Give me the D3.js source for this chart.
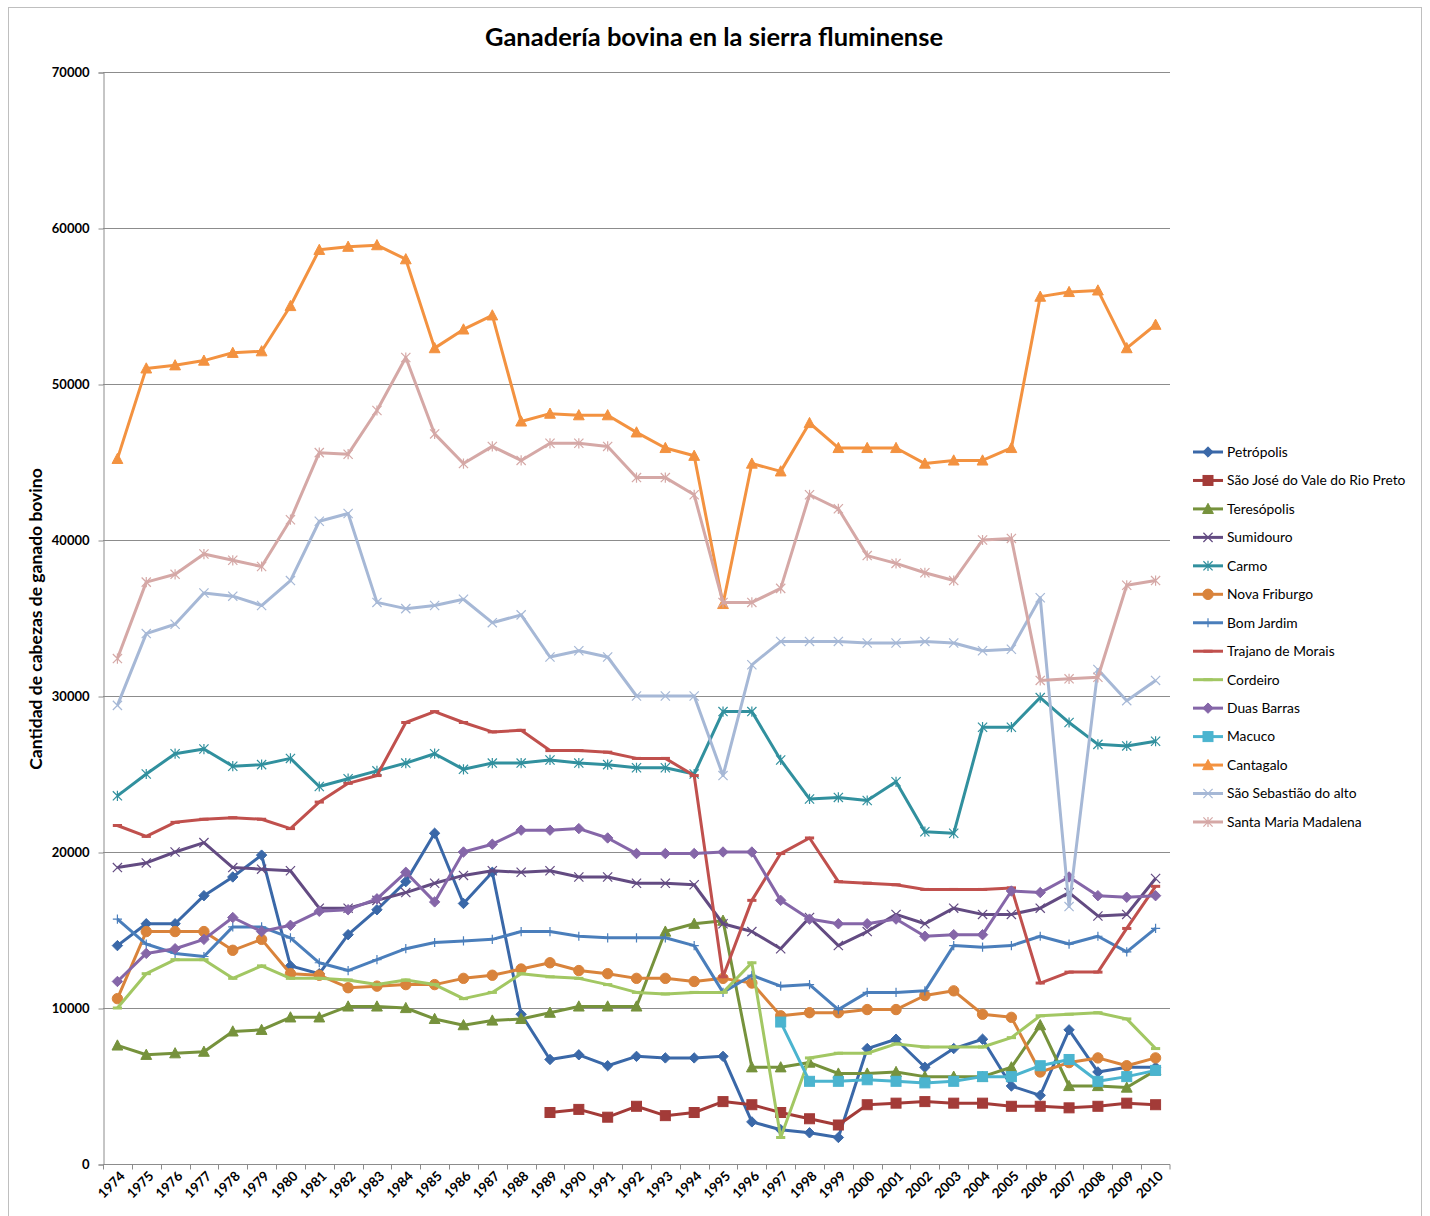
<!DOCTYPE html>
<html>
<head>
<meta charset="utf-8">
<script src="https://cdn.jsdelivr.net/npm/d3@7/dist/d3.min.js"></script>
<style>
  html, body { margin: 0; padding: 0; background: #fff; }
  svg { display: block; font-family: Lato, "Open Sans", sans-serif; }
</style>
</head>
<body>
<svg id="chart" width="1430" height="1216"></svg>
<script>
const years = d3.range(1974, 2011).map(String);
const yTicks = [0, 10000, 20000, 30000, 40000, 50000, 60000, 70000];
const N = null;

const petropolis = [14000,15400,15400,17200,18400,19800,12700,12200,14700,16300,18100,21200,16700,18700,9600,6700,7000,6300,6900,6800,6800,6900,2700,2200,2000,1700,7400,8000,6200,7400,8000,5000,4400,8600,5900,6200,6200];
const saoJose = [N,N,N,N,N,N,N,N,N,N,N,N,N,N,N,3300,3500,3000,3700,3100,3300,4000,3800,3300,2900,2500,3800,3900,4000,3900,3900,3700,3700,3600,3700,3900,3800];
const teresopolis = [7600,7000,7100,7200,8500,8600,9400,9400,10100,10100,10000,9300,8900,9200,9300,9700,10100,10100,10100,14900,15400,15600,6200,6200,6500,5800,5800,5900,5600,5600,5600,6200,8900,5000,5000,4900,6000];
const sumidouro = [19000,19300,20000,20600,19000,18900,18800,16400,16400,16900,17400,18000,18500,18800,18700,18800,18400,18400,18000,18000,17900,15400,14900,13800,15800,14000,14900,16000,15400,16400,16000,16000,16400,17400,15900,16000,18300];
const carmo = [23600,25000,26300,26600,25500,25600,26000,24200,24700,25200,25700,26300,25300,25700,25700,25900,25700,25600,25400,25400,25000,29000,29000,25900,23400,23500,23300,24500,21300,21200,28000,28000,29900,28300,26900,26800,27100];
const novaFriburgo = [10600,14900,14900,14900,13700,14400,12200,12100,11300,11400,11500,11500,11900,12100,12500,12900,12400,12200,11900,11900,11700,11900,11600,9500,9700,9700,9900,9900,10800,11100,9600,9400,5900,6500,6800,6300,6800];
const bomJardim = [15700,14100,13500,13300,15200,15200,14500,12900,12400,13100,13800,14200,14300,14400,14900,14900,14600,14500,14500,14500,14000,11000,12100,11400,11500,9900,11000,11000,11100,14000,13900,14000,14600,14100,14600,13600,15100];
const trajano = [21700,21000,21900,22100,22200,22100,21500,23200,24400,24900,28300,29000,28300,27700,27800,26500,26500,26400,26000,26000,24900,12000,16900,19900,20900,18100,18000,17900,17600,17600,17600,17700,11600,12300,12300,15100,17800];
const cordeiro = [10000,12200,13100,13100,11900,12700,11900,11900,11800,11500,11800,11500,10600,11000,12200,12000,11900,11500,11000,10900,11000,11000,12900,1700,6800,7100,7100,7700,7500,7500,7500,8100,9500,9600,9700,9300,7400];
const duasBarras = [11700,13500,13800,14400,15800,14900,15300,16200,16300,17000,18700,16800,20000,20500,21400,21400,21500,20900,19900,19900,19900,20000,20000,16900,15700,15400,15400,15700,14600,14700,14700,17500,17400,18400,17200,17100,17200];
const macuco = [N,N,N,N,N,N,N,N,N,N,N,N,N,N,N,N,N,N,N,N,N,N,N,9100,5300,5300,5400,5300,5200,5300,5600,5600,6300,6700,5300,5600,6000];
const cantagalo = [45200,51000,51200,51500,52000,52100,55000,58600,58800,58900,58000,52300,53500,54400,47600,48100,48000,48000,46900,45900,45400,35900,44900,44400,47500,45900,45900,45900,44900,45100,45100,45900,55600,55900,56000,52300,53800];
const saoSebastiao = [29400,34000,34600,36600,36400,35800,37400,41200,41700,36000,35600,35800,36200,34700,35200,32500,32900,32500,30000,30000,30000,24900,32000,33500,33500,33500,33400,33400,33500,33400,32900,33000,36300,16500,31700,29700,31000];
const santaMaria = [32400,37300,37800,39100,38700,38300,41300,45600,45500,48300,51700,46800,44900,46000,45100,46200,46200,46000,44000,44000,42900,36000,36000,36900,42900,42000,39000,38500,37900,37400,40000,40100,31000,31100,31200,37100,37400];

const seriesNames = ["Petrópolis","São José do Vale do Rio Preto","Teresópolis","Sumidouro","Carmo","Nova Friburgo","Bom Jardim","Trajano de Morais","Cordeiro","Duas Barras","Macuco","Cantagalo","São Sebastião do alto","Santa Maria Madalena"];
const seriesValues = [petropolis,saoJose,teresopolis,sumidouro,carmo,novaFriburgo,bomJardim,trajano,cordeiro,duasBarras,macuco,cantagalo,saoSebastiao,santaMaria];
const seriesColors = ["#3A68A8","#A33B38","#76923C","#634B82","#31909E","#D9833B","#4A7EBB","#C0504D","#A2C763","#8566A8","#4BB4CF","#F39240","#A6B8D6","#D5A8A6"];
const seriesMarkers = ["diamond","square","triangle","x","star","circle","plus","dash","dash","diamond","square","triangle","x","star"];

const svg = d3.select("#chart");
const plot = {left: 103, right: 1170, top: 72, bottom: 1164};

// outer frame
svg.append("rect").attr("x", 8.5).attr("y", 7.5).attr("width", 1413).attr("height", 1230)
  .attr("fill", "none").attr("stroke", "#BFBFBF").attr("stroke-width", 1);

const x = d3.scalePoint().domain(years).range([plot.left, plot.right]).padding(0.5);
const xb = d3.scaleBand().domain(years).range([plot.left, plot.right]);
const y = d3.scaleLinear().domain([0, 70000]).range([plot.bottom, plot.top]);

// gridlines
svg.append("g").selectAll("line").data(yTicks.filter(d => d > 0)).join("line")
  .attr("x1", plot.left).attr("x2", plot.right)
  .attr("y1", d => Math.round(y(d)) + 0.5).attr("y2", d => Math.round(y(d)) + 0.5)
  .attr("stroke", "#8C8C8C").attr("stroke-width", 1);

// y axis
const yAxis = svg.append("g").attr("transform", `translate(${plot.left + 0.5},0.5)`)
  .call(d3.axisLeft(y).tickValues(yTicks).tickSize(5).tickPadding(9).tickFormat(d => d));
yAxis.selectAll("path,line").attr("stroke", "#8C8C8C");
yAxis.selectAll("text").attr("font-family", "Lato, sans-serif").attr("font-size", 13)
  .attr("font-weight", "bold").attr("fill", "#000");

// x axis
const xAxis = svg.append("g").attr("transform", `translate(0,${plot.bottom + 0.5})`);
xAxis.append("line").attr("x1", plot.left).attr("x2", plot.right).attr("stroke", "#8C8C8C");
xAxis.selectAll("line.tk").data(years.concat(["end"])).join("line").attr("class", "tk")
  .attr("x1", d => d === "end" ? plot.right : Math.round(xb(d)) + 0.5)
  .attr("x2", d => d === "end" ? plot.right : Math.round(xb(d)) + 0.5)
  .attr("y1", 0).attr("y2", 5).attr("stroke", "#8C8C8C");
xAxis.selectAll("text").data(years).join("text")
  .attr("transform", d => `translate(${x(d) + 5},${9}) rotate(-45)`)
  .attr("text-anchor", "end").attr("dy", "0.35em")
  .attr("font-size", 13.5).attr("font-weight", "bold").attr("fill", "#000")
  .text(d => d);

// title
svg.append("text").attr("x", 714).attr("y", 46).attr("text-anchor", "middle")
  .attr("font-size", 25.5).attr("font-weight", "bold").attr("fill", "#000")
  .text("Ganadería bovina en la sierra fluminense");

// y label
svg.append("text").attr("transform", `translate(42,619) rotate(-90)`).attr("text-anchor", "middle")
  .attr("font-size", 17.5).attr("font-weight", "bold").attr("fill", "#000")
  .text("Cantidad de cabezas de ganado bovino");

function drawMarker(g, type, cx, cy, color) {
  const s = 4.6;
  if (type === "diamond") {
    g.append("path").attr("d", `M${cx},${cy - s - 0.6}L${cx + s + 0.6},${cy}L${cx},${cy + s + 0.6}L${cx - s - 0.6},${cy}Z`)
      .attr("fill", color).attr("stroke", color).attr("stroke-width", 1);
  } else if (type === "square") {
    const r = s + 0.4;
    g.append("rect").attr("x", cx - r).attr("y", cy - r).attr("width", 2 * r).attr("height", 2 * r)
      .attr("fill", color).attr("stroke", color).attr("stroke-width", 1);
  } else if (type === "triangle") {
    g.append("path").attr("d", `M${cx},${cy - s - 1}L${cx + s + 0.8},${cy + s}L${cx - s - 0.8},${cy + s}Z`)
      .attr("fill", color).attr("stroke", color).attr("stroke-width", 1);
  } else if (type === "circle") {
    g.append("circle").attr("cx", cx).attr("cy", cy).attr("r", s + 0.6)
      .attr("fill", color).attr("stroke", color).attr("stroke-width", 1);
  } else if (type === "x") {
    g.append("path").attr("d", `M${cx - s},${cy - s}L${cx + s},${cy + s}M${cx - s},${cy + s}L${cx + s},${cy - s}`)
      .attr("stroke", color).attr("stroke-width", 1.2).attr("fill", "none");
  } else if (type === "star") {
    g.append("path").attr("d", `M${cx - s},${cy - s}L${cx + s},${cy + s}M${cx - s},${cy + s}L${cx + s},${cy - s}M${cx},${cy - s - 0.5}L${cx},${cy + s + 0.5}`)
      .attr("stroke", color).attr("stroke-width", 1.2).attr("fill", "none");
  } else if (type === "plus") {
    g.append("path").attr("d", `M${cx - s},${cy}L${cx + s},${cy}M${cx},${cy - s}L${cx},${cy + s}`)
      .attr("stroke", color).attr("stroke-width", 1.2).attr("fill", "none");
  } else if (type === "dash") {
    g.append("path").attr("d", `M${cx - s},${cy}L${cx + s},${cy}`)
      .attr("stroke", color).attr("stroke-width", 3).attr("fill", "none");
  }
}

const line = d3.line().defined(d => d.v !== null).x(d => x(d.yr)).y(d => y(d.v));
const seriesG = svg.append("g");
seriesValues.forEach((vals, i) => {
  const data = vals.map((v, j) => ({yr: years[j], v}));
  const g = seriesG.append("g");
  g.append("path").datum(data).attr("d", line).attr("fill", "none")
    .attr("stroke", seriesColors[i]).attr("stroke-width", 3).attr("stroke-linejoin", "round");
  data.filter(d => d.v !== null).forEach(d => drawMarker(g, seriesMarkers[i], x(d.yr), y(d.v), seriesColors[i]));
});

// legend
const legend = svg.append("g");
seriesNames.forEach((name, i) => {
  const ly = 452 + i * 28.46;
  const g = legend.append("g");
  g.append("line").attr("x1", 1193).attr("x2", 1223).attr("y1", ly).attr("y2", ly)
    .attr("stroke", seriesColors[i]).attr("stroke-width", 3);
  drawMarker(g, seriesMarkers[i], 1208, ly, seriesColors[i]);
  g.append("text").attr("x", 1227).attr("y", ly).attr("dy", "0.35em")
    .attr("font-size", 13.8).attr("fill", "#000").text(name);
});
</script>
</body>
</html>
